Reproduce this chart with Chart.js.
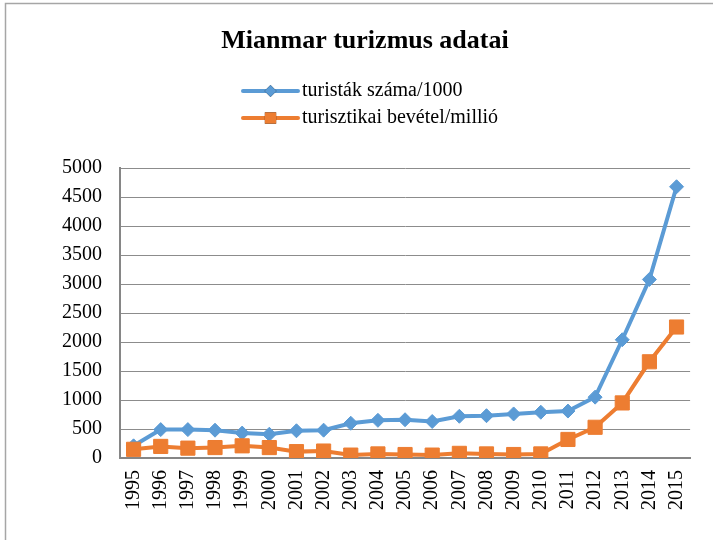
<!DOCTYPE html>
<html lang="hu">
<head>
    <meta charset="UTF-8">
    <title>Mianmar turizmus adatai</title>
    <script src="https://cdn.jsdelivr.net/npm/chart.js@4.4.0/dist/chart.umd.min.js"></script>
    <style>
        body { margin: 0; background: #fff; overflow: hidden; }
        #wrap { width: 713px; height: 540px; position: relative; }
    </style>
</head>
<body>
    <div id="wrap"><canvas id="chart"></canvas></div>

    <script>
        const years = ['1995', '1996', '1997', '1998', '1999', '2000', '2001', '2002', '2003', '2004', '2005',
                       '2006', '2007', '2008', '2009', '2010', '2011', '2012', '2013', '2014', '2015'];
        const tourists = [210, 490, 490, 480, 430, 410, 470, 480, 600, 650, 660,
                          630, 720, 730, 760, 790, 810, 1050, 2040, 3080, 4680];
        const revenue = [150, 200, 170, 180, 210, 180, 110, 120, 50, 70, 60,
                         50, 80, 70, 60, 70, 320, 530, 950, 1660, 2260];
        const seriesNames = ['turisták száma/1000', 'turisztikai bevétel/millió'];

        const BLUE = '#5b9bd5';
        const ORANGE = '#ed7d31';
        const SERIF = '"Liberation Serif", "Times New Roman", serif';

        // outer frame + vertical legend drawn on the canvas
        const framePlugin = {
            id: 'frame',
            beforeDraw(chart) {
                const ctx = chart.ctx;
                ctx.save();
                ctx.strokeStyle = '#a6a6a6';
                ctx.lineWidth = 1.5;
                ctx.beginPath();
                ctx.moveTo(5.5, chart.height + 5);
                ctx.lineTo(5.5, 3.5);
                ctx.lineTo(chart.width + 5, 3.5);
                ctx.stroke();
                ctx.restore();
            },
            afterDraw(chart) {
                const ctx = chart.ctx;
                const x0 = 243, x1 = 298, rows = [91, 118];
                ctx.save();
                chart.data.datasets.forEach((ds, i) => {
                    const y = rows[i];
                    ctx.strokeStyle = ds.borderColor;
                    ctx.lineWidth = 4;
                    ctx.lineCap = 'round';
                    ctx.beginPath();
                    ctx.moveTo(x0, y);
                    ctx.lineTo(x1, y);
                    ctx.stroke();
                    Chart.helpers.drawPoint(ctx, {
                        pointStyle: ds.pointStyle,
                        radius: i === 0 ? 6 : 8,
                        borderWidth: 0
                    }, (x0 + x1) / 2, y);
                    ctx.fillStyle = ds.pointBackgroundColor;
                    ctx.fill();
                    ctx.fillStyle = '#000';
                    ctx.font = '20px ' + SERIF;
                    ctx.textBaseline = 'middle';
                    ctx.textAlign = 'left';
                    ctx.fillText(ds.label, x1 + 4, y);
                });
                ctx.restore();
            }
        };

        new Chart(document.getElementById('chart'), {
            type: 'line',
            data: {
                labels: years,
                datasets: [{
                    label: seriesNames[0],
                    data: tourists,
                    borderColor: BLUE,
                    backgroundColor: BLUE,
                    pointBackgroundColor: BLUE,
                    pointBorderColor: BLUE,
                    borderWidth: 4,
                    pointStyle: 'rectRot',
                    pointRadius: 7,
                    pointBorderWidth: 1,
                    tension: 0,
                    order: 1
                }, {
                    label: seriesNames[1],
                    data: revenue,
                    borderColor: ORANGE,
                    backgroundColor: ORANGE,
                    pointBackgroundColor: ORANGE,
                    pointBorderColor: ORANGE,
                    borderWidth: 4,
                    pointStyle: 'rect',
                    pointRadius: 10,
                    pointBorderWidth: 1,
                    tension: 0,
                    order: 0
                }]
            },
            options: {
                responsive: true,
                maintainAspectRatio: false,
                animation: false,
                layout: { padding: { left: 36, right: 19, top: 0, bottom: 0 } },
                plugins: {
                    legend: { display: false },
                    tooltip: { enabled: false },
                    title: {
                        display: true,
                        text: 'Mianmar turizmus adatai',
                        color: '#000',
                        font: { family: SERIF, size: 26, weight: 'bold', lineHeight: 1.2 },
                        padding: { top: 26, bottom: 111 }
                    }
                },
                scales: {
                    x: {
                        offset: true,
                        grid: { display: false, drawTicks: false },
                        border: { display: true, color: '#868686', width: 2 },
                        ticks: {
                            color: '#000',
                            font: { family: SERIF, size: 20 },
                            minRotation: 90,
                            maxRotation: 90,
                            padding: 12,
                            autoSkip: false
                        },
                        afterFit(scale) { scale.height = 82; }
                    },
                    y: {
                        min: 0,
                        max: 5000,
                        ticks: {
                            stepSize: 500,
                            color: '#000',
                            font: { family: SERIF, size: 20 },
                            padding: 18,
                            callback: (v) => String(v)
                        },
                        grid: { color: '#8c8c8c', lineWidth: 1, drawTicks: false },
                        border: { display: true, color: '#868686', width: 2 },
                        afterFit(scale) { scale.width = 84; }
                    }
                }
            },
            plugins: [framePlugin]
        });
    </script>
</body>
</html>
